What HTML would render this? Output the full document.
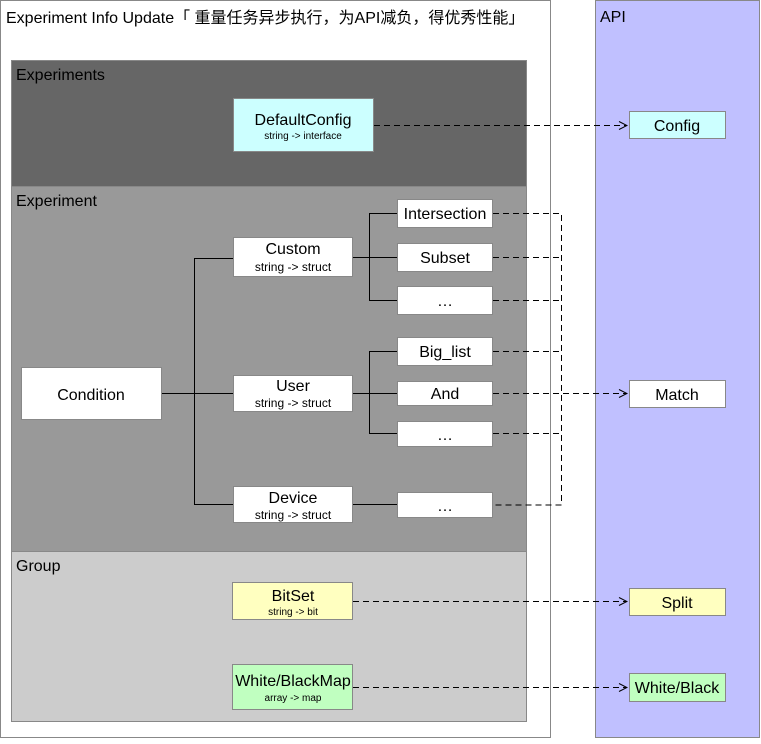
<!DOCTYPE html>
<html><head><meta charset="utf-8"><style>
html,body{margin:0;padding:0;background:#fff;}
svg text{font-family:"Liberation Sans","Noto Sans CJK SC",sans-serif;fill:#000;}
</style></head><body>
<svg width="761" height="739" viewBox="0 0 761 739" xmlns="http://www.w3.org/2000/svg">
<defs><marker id="a" markerWidth="10" markerHeight="10" refX="9" refY="5" orient="auto" markerUnits="userSpaceOnUse"><path d="M1,1 L9,5 L1,9" fill="none" stroke="#000" stroke-width="1"/></marker></defs>
<rect x="0.5" y="0.5" width="550" height="737" fill="#fff" stroke="#888"/>
<rect x="595.5" y="0.5" width="164" height="737" fill="#c0c0ff" stroke="#888"/>
<text x="6" y="23" font-size="16">Experiment Info Update「 重量任务异步执行，为API减负，得优秀性能」</text>
<text x="600" y="22" font-size="16">API</text>
<rect x="11.5" y="60.5" width="515" height="126" fill="#666" stroke="#888"/>
<rect x="11.5" y="186.5" width="515" height="365" fill="#999" stroke="#888"/>
<rect x="11.5" y="551.5" width="515" height="170" fill="#ccc" stroke="#888"/>
<text x="16" y="80" font-size="16">Experiments</text>
<text x="16" y="206" font-size="16">Experiment</text>
<text x="16" y="571" font-size="16">Group</text>
<g stroke="#000" fill="none" stroke-width="1">
<path d="M162,393.5 H233 M194.5,258 V504 M194,258.5 H233 M194,504.5 H233"/>
<path d="M353,257.5 H397 M369.5,213 V300 M369,213.5 H397 M369,300.5 H397"/>
<path d="M353,393.5 H397 M369.5,351 V433 M369,351.5 H397 M369,433.5 H397"/>
<path d="M353,504.5 H397"/>
</g>
<g stroke="#000" fill="none" stroke-width="1" stroke-dasharray="6,4">
<path d="M374,125.5 H627" marker-end="url(#a)"/>
<path d="M493,213.5 H561.5 V505 H493"/>
<path d="M493,257.5 H561 M493,300.5 H561 M493,351.5 H561 M493,433.5 H561"/>
<path d="M493,393.5 H627" marker-end="url(#a)"/>
<path d="M353,601.5 H627" marker-end="url(#a)"/>
<path d="M353,687.5 H627" marker-end="url(#a)"/>
</g>
<g stroke="#888" stroke-width="1">
<rect x="233.5" y="98.5" width="140" height="53" fill="#ccffff"/>
<rect x="629.5" y="111.5" width="96" height="27" fill="#ccffff"/>
<rect x="21.5" y="367.5" width="140" height="52" fill="#fff"/>
<rect x="233.5" y="237.5" width="119" height="39" fill="#fff"/>
<rect x="233.5" y="375.5" width="119" height="36" fill="#fff"/>
<rect x="233.5" y="486.5" width="119" height="36" fill="#fff"/>
<rect x="397.5" y="199.5" width="95" height="28" fill="#fff"/>
<rect x="397.5" y="243.5" width="95" height="28" fill="#fff"/>
<rect x="397.5" y="286.5" width="95" height="28" fill="#fff"/>
<rect x="397.5" y="337.5" width="95" height="28" fill="#fff"/>
<rect x="397.5" y="381.5" width="95" height="24" fill="#fff"/>
<rect x="397.5" y="421.5" width="95" height="25" fill="#fff"/>
<rect x="397.5" y="492.5" width="95" height="25" fill="#fff"/>
<rect x="629.5" y="380.5" width="96" height="27" fill="#fff"/>
<rect x="232.5" y="582.5" width="120" height="37" fill="#ffffc0"/>
<rect x="629.5" y="588.5" width="96" height="27" fill="#ffffc0"/>
<rect x="232.5" y="664.5" width="120" height="45" fill="#c0ffc0"/>
<rect x="629.5" y="673.5" width="96" height="28" fill="#c0ffc0"/>
</g>
<g text-anchor="middle" font-size="16">
<text x="303" y="125">DefaultConfig</text>
<text x="303" y="139" font-size="10">string -&gt; interface</text>
<text x="677" y="131">Config</text>
<text x="91" y="400">Condition</text>
<text x="293" y="254">Custom</text>
<text x="293" y="271" font-size="12">string -&gt; struct</text>
<text x="293" y="391">User</text>
<text x="293" y="407" font-size="12">string -&gt; struct</text>
<text x="293" y="503">Device</text>
<text x="293" y="519" font-size="12">string -&gt; struct</text>
<text x="445" y="219">Intersection</text>
<text x="445" y="263">Subset</text>
<text x="445" y="306">…</text>
<text x="445" y="357">Big_list</text>
<text x="445" y="399">And</text>
<text x="445" y="440">…</text>
<text x="445" y="511">…</text>
<text x="677" y="400">Match</text>
<text x="293" y="601">BitSet</text>
<text x="293" y="615" font-size="10">string -&gt; bit</text>
<text x="677" y="608">Split</text>
<text x="293" y="686">White/BlackMap</text>
<text x="293" y="701" font-size="10">array -&gt; map</text>
<text x="677" y="693">White/Black</text>
</g>
</svg>
</body></html>
